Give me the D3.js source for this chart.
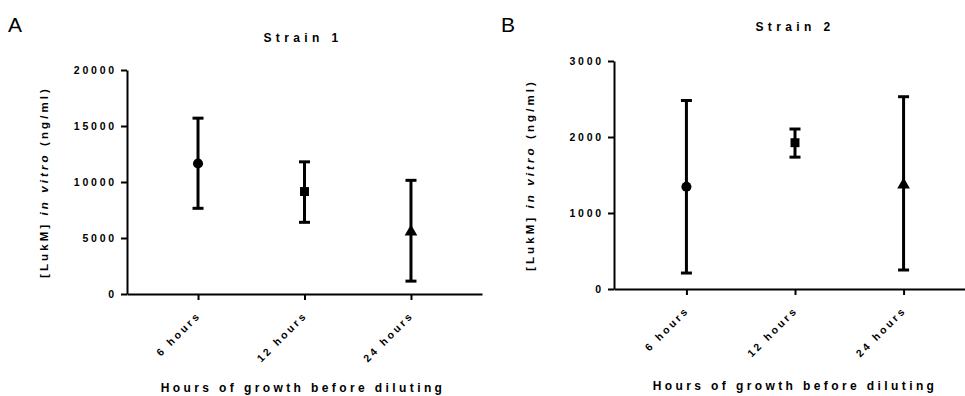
<!DOCTYPE html>
<html>
<head>
<meta charset="utf-8">
<script src="https://cdn.jsdelivr.net/npm/d3@7"></script>
<style>
  body { margin: 0; background: #fff; }
  svg { font-family: "Liberation Sans", Arial, sans-serif; }
</style>
</head>
<body>
<svg id="chart" width="965" height="396"></svg>
<script>
// data
const categories = ["6 hours", "12 hours", "24 hours"];
const symbols = ["circle", "square", "triangle"];

const strain1Mean = [11650, 9150, 5550];
const strain1Upper = [15700, 11800, 10150];
const strain1Lower = [7650, 6400, 1150];
const strain1Ticks = [0, 5000, 10000, 15000, 20000];

const strain2Mean = [1345, 1925, 1370];
const strain2Upper = [2480, 2105, 2530];
const strain2Lower = [210, 1735, 250];
const strain2Ticks = [0, 1000, 2000, 3000];

const svg = d3.select("#chart");

//draw one panel
function drawPanel(opts) {
    const g = svg.append("g");

    const x = d3.scalePoint()
        .domain(categories)
        .range([opts.left, opts.right])
        .padding(0.667);

    const y = d3.scaleLinear()
        .domain([0, opts.max])
        .range([opts.bottom, opts.top]);

    //y axis
    const yAxis = g.append("g")
        .attr("transform", `translate(${opts.left},0)`)
        .call(d3.axisLeft(y).tickValues(opts.ticks).tickSizeOuter(0).tickSizeInner(6).tickPadding(4).tickFormat(d3.format("d")));

    //x axis
    const xAxis = g.append("g")
        .attr("transform", `translate(0,${opts.bottom})`)
        .call(d3.axisBottom(x).tickSizeOuter(0).tickSizeInner(6));

    [yAxis, xAxis].forEach(a => {
        a.select(".domain").attr("stroke", "#000").attr("stroke-width", 2);
        a.selectAll(".tick line").attr("stroke", "#000").attr("stroke-width", 2);
        a.selectAll("text")
            .attr("fill", "#000")
            .style("font-size", "10.5px")
            .style("font-weight", "bold")
            .style("letter-spacing", "2.8px");
    });

    xAxis.selectAll(".tick text")
        .attr("text-anchor", "end")
        .attr("dy", null)
        .attr("y", 0)
        .attr("transform", "translate(3,22) rotate(-45)");

    //error bars
    const rows = categories.map((c, i) => ({
        cat: c, mean: opts.mean[i], lo: opts.lower[i], hi: opts.upper[i], sym: symbols[i]
    }));

    const bars = g.selectAll(".err").data(rows).enter().append("g").attr("class", "err");
    bars.append("line")
        .attr("x1", d => x(d.cat)).attr("x2", d => x(d.cat))
        .attr("y1", d => y(d.lo)).attr("y2", d => y(d.hi))
        .attr("stroke", "#000").attr("stroke-width", 3);
    ["lo", "hi"].forEach(k => {
        bars.append("line")
            .attr("x1", d => x(d.cat) - 5.5).attr("x2", d => x(d.cat) + 5.5)
            .attr("y1", d => y(d[k])).attr("y2", d => y(d[k]))
            .attr("stroke", "#000").attr("stroke-width", 3);
    });

    const symType = { circle: d3.symbolCircle, square: d3.symbolSquare, triangle: d3.symbolTriangle };
    const symSize = { circle: 80, square: 80, triangle: 70 };
    bars.append("path")
        .attr("d", d => d3.symbol().type(symType[d.sym]).size(symSize[d.sym])())
        .attr("transform", d => `translate(${x(d.cat)},${y(d.mean)})`)
        .attr("fill", "#000");

    //panel letter
    g.append("text")
        .attr("x", opts.letterX).attr("y", 32)
        .style("font-size", "21px")
        .text(opts.letter);

    //title
    g.append("text")
        .attr("x", opts.titleX).attr("y", opts.titleY)
        .attr("text-anchor", "middle")
        .style("font-size", "12px").style("font-weight", "bold").style("letter-spacing", "4.4px")
        .text(opts.title);

    //x title
    g.append("text")
        .attr("x", opts.titleX).attr("y", opts.xTitleY)
        .attr("text-anchor", "middle")
        .style("font-size", "12px").style("font-weight", "bold").style("letter-spacing", "3.4px")
        .text("Hours of growth before diluting");

    //y title
    const yt = g.append("text")
        .attr("transform", `translate(${opts.yTitleX},${(opts.top + opts.bottom) / 2}) rotate(-90)`)
        .attr("text-anchor", "middle")
        .style("font-size", "11.5px").style("font-weight", "bold").style("letter-spacing", "3.1px");
    yt.append("tspan").text("[LukM] ");
    yt.append("tspan").style("font-style", "italic").text("in vitro");
    yt.append("tspan").text(" (ng/ml)");
}

drawPanel({
    letter: "A", letterX: 8,
    title: "Strain 1", titleX: 303, titleY: 42, xTitleY: 392,
    left: 127, right: 482, top: 70, bottom: 294, max: 20000,
    ticks: strain1Ticks, yTitleX: 48,
    mean: strain1Mean, upper: strain1Upper, lower: strain1Lower
});

drawPanel({
    letter: "B", letterX: 501,
    title: "Strain 2", titleX: 795, titleY: 31, xTitleY: 390,
    left: 614, right: 976, top: 61, bottom: 289, max: 3000,
    ticks: strain2Ticks, yTitleX: 534,
    mean: strain2Mean, upper: strain2Upper, lower: strain2Lower
});
</script>
</body>
</html>
